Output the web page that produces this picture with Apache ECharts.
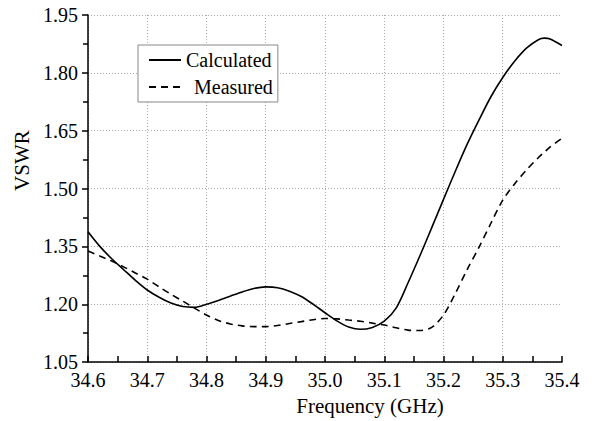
<!DOCTYPE html>
<html>
<head>
<meta charset="utf-8">
<script src="https://cdn.jsdelivr.net/npm/echarts@6/dist/echarts.min.js"></script>
<style>html,body{margin:0;padding:0;background:#fff}#c{width:604px;height:421px}</style>
</head>
<body>
<div id="c"></div>
<script>
const seriesNames = ['Calculated', 'Measured'];
const freq = [34.60,34.62,34.64,34.66,34.68,34.70,34.72,34.74,34.76,34.78,34.80,34.82,34.84,34.86,34.88,34.90,34.92,34.94,34.96,34.98,35.00,35.02,35.04,35.06,35.08,35.10,35.12,35.14,35.16,35.18,35.20,35.22,35.24,35.26,35.28,35.30,35.32,35.34,35.36,35.37,35.38,35.40];
const calculated = [1.388,1.350,1.318,1.290,1.262,1.237,1.218,1.203,1.194,1.192,1.200,1.210,1.221,1.232,1.241,1.245,1.243,1.234,1.220,1.200,1.178,1.157,1.141,1.135,1.140,1.156,1.190,1.255,1.325,1.398,1.472,1.545,1.615,1.678,1.738,1.788,1.830,1.864,1.886,1.890,1.888,1.871];
const measured = [1.338,1.325,1.312,1.297,1.281,1.265,1.245,1.226,1.208,1.190,1.172,1.158,1.149,1.144,1.142,1.142,1.145,1.150,1.155,1.160,1.163,1.162,1.159,1.156,1.151,1.146,1.139,1.133,1.132,1.140,1.172,1.228,1.290,1.348,1.410,1.470,1.512,1.548,1.580,1.594,1.608,1.630];
const xTicks = {min: 34.6, max: 35.4, step: 0.1};
const yTicks = {min: 1.05, max: 1.95, step: 0.15};

const font = '"Liberation Serif", "Times New Roman", serif';
const chart = echarts.init(document.getElementById('c'), null, {renderer: 'svg'});
chart.setOption({
  animation: false,
  backgroundColor: '#fff',
  textStyle: {fontFamily: font},
  grid: {left: 88, right: 42, top: 15, bottom: 58, containLabel: false},
  legend: {
    orient: 'vertical', left: 138, top: 45,
    padding: [5, 5, 5, 10], itemGap: 7, itemWidth: 32, itemHeight: 14,
    borderColor: '#888', borderWidth: 1, backgroundColor: '#fff',
    itemStyle: {opacity: 0},
    textStyle: {fontFamily: font, fontSize: 20, color: '#000'},
    data: [
      {name: seriesNames[0]},
      {name: seriesNames[1], textStyle: {padding: [0, 0, 0, 8]}}
    ]
  },
  xAxis: {
    type: 'value', min: xTicks.min, max: xTicks.max, interval: xTicks.step,
    name: 'Frequency (GHz)', nameLocation: 'middle', nameGap: 32,
    nameTextStyle: {fontFamily: font, fontSize: 21, color: '#000', padding: [0, 0, 0, 90]},
    axisLine: {onZero: false, lineStyle: {color: '#000', width: 1.5}},
    axisTick: {inside: true, length: 6, lineStyle: {color: '#000', width: 1.5}},
    minorTick: {show: true, splitNumber: 2, length: 6, lineStyle: {color: '#000', width: 1.5}},
    axisLabel: {fontFamily: font, fontSize: 20, color: '#000', margin: 8, formatter: v => v.toFixed(1)},
    splitLine: {show: true, showMaxLine: false, lineStyle: {color: '#aaa', type: [1, 2], width: 1}}
  },
  yAxis: {
    type: 'value', min: yTicks.min, max: yTicks.max, interval: yTicks.step,
    name: 'VSWR', nameLocation: 'middle', nameGap: 49,
    nameTextStyle: {fontFamily: font, fontSize: 21, color: '#000', padding: [0, 0, 0, 56]},
    axisLine: {show: true, onZero: false, lineStyle: {color: '#000', width: 1.5}},
    axisTick: {show: true, inside: false, length: 6, lineStyle: {color: '#000', width: 1.5}},
    minorTick: {show: true, splitNumber: 2, length: 5, lineStyle: {color: '#000', width: 1.5}},
    axisLabel: {fontFamily: font, fontSize: 20, color: '#000', margin: 10, formatter: v => v.toFixed(2)},
    splitLine: {show: true, lineStyle: {color: '#aaa', type: [1, 2], width: 1}}
  },
  series: [
    {name: seriesNames[0], type: 'line', smooth: 0.3, symbol: 'none',
     lineStyle: {color: '#000', width: 1.6}, itemStyle: {color: '#000'},
     data: freq.map((f, i) => [f, calculated[i]])},
    {name: seriesNames[1], type: 'line', smooth: 0.3, symbol: 'none',
     lineStyle: {color: '#000', width: 1.6, type: [7, 5]}, itemStyle: {color: '#000'},
     data: freq.map((f, i) => [f, measured[i]])}
  ]
});
</script>
</body>
</html>
